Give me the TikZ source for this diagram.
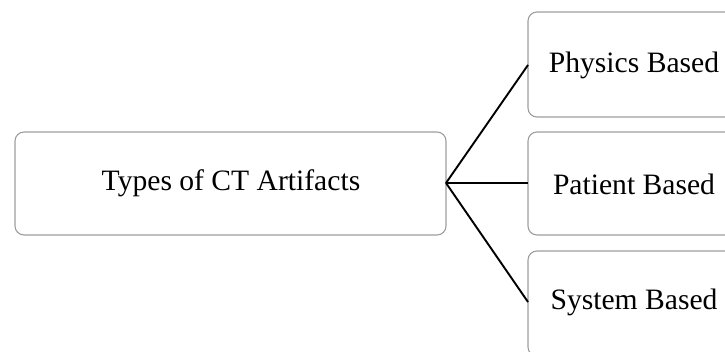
\documentclass[tikz,border=0pt]{standalone}
\usepackage{fontspec}
\setmainfont{Liberation Serif}
\begin{document}
\begin{tikzpicture}[x=1pt,y=-1pt,
  box/.style={draw=black!38, line width=1.1pt, rounded corners=9pt, fill=white},
  label/.style={font=\fontsize{29.6}{32}\selectfont, text=black, inner sep=0pt},
  link/.style={draw=black, line width=1.9pt}]
  \useasboundingbox (0,0) rectangle (725,351);
  \clip (0,0) rectangle (725,351);
  % root box
  \draw[box] (15,132) rectangle (446,235);
  \node[label] (root) at (231,183) {Types of CT Artifacts};
  \coordinate (hub) at (446,183);
  % branch boxes (running past the right edge)
  \draw[box] (528,12) rectangle (738,117);
  \draw[box] (528,132) rectangle (738,235);
  \draw[box] (528,251) rectangle (738,356);
  \node[label] (phys) at (634,65) {Physics Based};
  \node[label] (pat) at (634,184) {Patient Based};
  \node[label] (sys) at (634,302) {System Based};
  \coordinate (e1) at (528,65);
  \coordinate (e2) at (528,183);
  \coordinate (e3) at (528,302);
  % connectors
  \draw[link] (hub) -- (e1);
  \draw[link] (hub) -- (e2);
  \draw[link] (hub) -- (e3);
\end{tikzpicture}
\end{document}
